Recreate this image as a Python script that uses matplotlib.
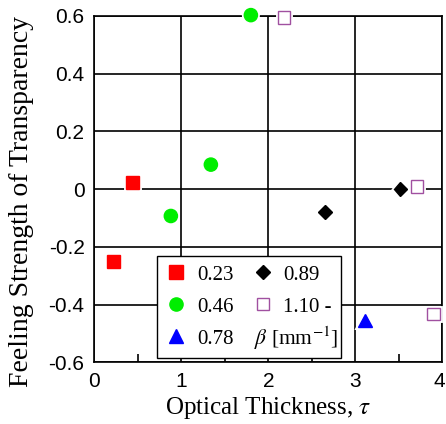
import matplotlib
matplotlib.use("Agg")
import matplotlib.pyplot as plt
import matplotlib.patheffects as pe
import matplotlib.transforms as mtransforms
from matplotlib.lines import Line2D

# Data (beta values and points)
beta_labels = ["0.23", "0.46", "0.78", "0.89", "1.10 -"]
x_023 = [0.44, 0.22]
y_023 = [0.023, -0.252]
x_046 = [0.88, 1.34, 1.80]
y_046 = [-0.093, 0.085, 0.603]
x_078 = [3.11]
y_078 = [-0.455]
x_089 = [2.65, 3.52]
y_089 = [-0.078, 0.0]
x_110 = [2.18, 3.71, 3.90]
y_110 = [0.595, 0.009, -0.432]

xticks = [0, 1, 2, 3, 4]
yticks = [-0.6, -0.4, -0.2, 0, 0.2, 0.4, 0.6]
ytick_labels = ["-0.6", "-0.4", "-0.2", "0", "0.2", "0.4", "0.6"]

plt.rcParams['mathtext.fontset'] = 'stix'
fig = plt.figure(figsize=(4.46, 4.24), dpi=100)
ax = fig.add_axes([0.2115, 0.1455, 0.7800, 0.8168])

ax.set_xlim(0, 4)
ax.set_ylim(-0.6, 0.6)
ax.grid(True, color='black', linewidth=1.2)
ax.set_axisbelow(True)
for s in ax.spines.values():
    s.set_linewidth(1.2)
    s.set_color('black')

halo = [pe.withStroke(linewidth=3.5, foreground='white')]
styles = [
    (x_023, y_023, dict(marker='s', color='#ff0000', markersize=9.5, markeredgecolor='#ff0000')),
    (x_046, y_046, dict(marker='o', color='#00ee00', markersize=9.5, markeredgecolor='#00ee00')),
    (x_078, y_078, dict(marker='^', color='#0000ff', markersize=10, markeredgecolor='#0000ff')),
    (x_089, y_089, dict(marker='D', color='black', markersize=7, markeredgecolor='black')),
    (x_110, y_110, dict(marker='s', color='#a050a0', markersize=9, markerfacecolor='white',
                        markeredgecolor='#a050a0', markeredgewidth=1.0)),
]
handles = []
for (xs, ys, st), lab in zip(styles, beta_labels):
    ax.plot(xs, ys, linestyle='none', clip_on=False, zorder=5, label=lab,
            path_effects=halo, **st)
    handles.append(Line2D([], [], linestyle='none', **st))

handles.append(Line2D([], [], linestyle='none', marker=None))
labels = beta_labels + [" "]
leg = ax.legend(handles, labels, ncol=2, loc='lower left',
                bbox_to_anchor=(0.179, 0.012, 0.531, 0.285), mode='expand',
                prop={'family': 'Liberation Serif', 'size': 15},
                frameon=True, fancybox=False, edgecolor='black', framealpha=1,
                handlelength=1.0, handletextpad=0.5, columnspacing=1.0,
                borderpad=0.45, labelspacing=0.6, borderaxespad=0)
leg.get_frame().set_linewidth(1.0)
leg.set_zorder(10)

ax.text(0.458, 0.069, r"$\beta$ [mm$^{-1}$]", transform=ax.transAxes,
        fontsize=15.5, family='Liberation Serif', va='center', ha='left', zorder=11)

ax.set_xticks(xticks)
ax.set_xticklabels([str(t) for t in xticks])
ax.set_yticks(yticks)
ax.set_yticklabels(ytick_labels)
ax.set_xticks([0.5, 1.5, 2.5, 3.5], minor=True)
ax.tick_params(axis='both', which='major', length=0, pad=7,
               labelsize=15)
ax.tick_params(axis='x', which='minor', direction='in', length=6, width=1.2, bottom=True)
for t in ax.get_xticklabels() + ax.get_yticklabels():
    t.set_family('Liberation Sans')
last = ax.get_xticklabels()[-1]
last.set_transform(last.get_transform() +
                   mtransforms.ScaledTranslation(-3 / 100, 0, fig.dpi_scale_trans))

ax.set_xlabel(r"Optical Thickness, $\tau$", family='Liberation Serif', fontsize=18, labelpad=3)
ax.set_ylabel("Feeling Strength of Transparency", family='Liberation Serif', fontsize=20)
ax.yaxis.set_label_coords(-0.208, 0.464)
ax.yaxis.label.set_va('center')

fig.savefig("out.png", dpi=100)
